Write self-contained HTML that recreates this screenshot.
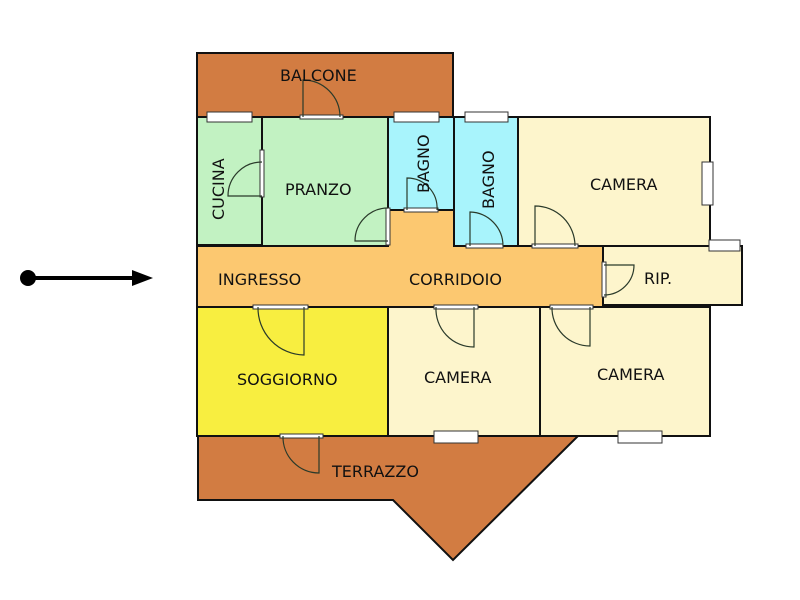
<!DOCTYPE html>
<html><head><meta charset="utf-8"><style>
html,body{margin:0;padding:0;background:#fff;}
svg{display:block;}
text{font-family:"DejaVu Sans","Liberation Sans",sans-serif;font-size:16px;fill:#111;}
</style></head><body>
<svg width="800" height="600" viewBox="0 0 800 600" xmlns="http://www.w3.org/2000/svg">
<g stroke="#111" stroke-width="2">
<rect x="197" y="53" width="256" height="64" fill="#d27c42"/>
<rect x="197" y="117" width="65" height="128" fill="#c2f2c2"/>
<rect x="262" y="117" width="126" height="129" fill="#c2f2c2"/>
<rect x="388" y="117" width="66" height="93" fill="#a8f4fc"/>
<rect x="454" y="117" width="64" height="129" fill="#a8f4fc"/>
<rect x="518" y="117" width="192" height="129" fill="#fdf5cc"/>
<polygon points="197,246 388,246 388,210 454,210 454,246 603,246 603,307 197,307" fill="#fcc870"/>
<rect x="603" y="246" width="139" height="59" fill="#fdf5cc"/>
<rect x="197" y="307" width="191" height="129" fill="#f8ee40"/>
<rect x="388" y="307" width="152" height="129" fill="#fdf5cc"/>
<rect x="540" y="307" width="170" height="129" fill="#fdf5cc"/>
<polygon points="198,436 578,436 453,560 393,500 198,500" fill="#d27c42"/>
</g>
<g fill="#fff" stroke="#333" stroke-width="1">
<rect x="207" y="112" width="45" height="10"/>
<rect x="394" y="112" width="45" height="10"/>
<rect x="465" y="112" width="43" height="10"/>
<rect x="702" y="162" width="11" height="43"/>
<rect x="709" y="240" width="31" height="11"/>
<rect x="434" y="431" width="44" height="12"/>
<rect x="618" y="431" width="44" height="12"/>
<rect x="300" y="115" width="43" height="4"/>
<rect x="260" y="150" width="4" height="47"/>
<rect x="386" y="208" width="4" height="37"/>
<rect x="404" y="208" width="34" height="4"/>
<rect x="466" y="244" width="37" height="4"/>
<rect x="532" y="244" width="46" height="4"/>
<rect x="602" y="262" width="4" height="35"/>
<rect x="253" y="305" width="55" height="4"/>
<rect x="434" y="305" width="44" height="4"/>
<rect x="550" y="305" width="43" height="4"/>
<rect x="280" y="434" width="43" height="4"/>
</g>
<g fill="none" stroke="#2a3a2a" stroke-width="1.2">
<path d="M303,117 V80 A37,37 0 0 1 340,117"/>
<path d="M262,196 H228 A34,34 0 0 1 262,162"/>
<path d="M388,241 H355 A33,33 0 0 1 388,208"/>
<path d="M407,210 V178 A30,30 0 0 1 437,210"/>
<path d="M470,246 V212 A34,34 0 0 1 503,246"/>
<path d="M535,246 V206 A40,40 0 0 1 575,246"/>
<path d="M604,265 H634 A30,30 0 0 1 604,295"/>
<path d="M304,307 V355 A47,47 0 0 1 258,307"/>
<path d="M474,307 V347 A38,38 0 0 1 436,307"/>
<path d="M590,307 V346 A38,38 0 0 1 552,307"/>
<path d="M319,436 V473 A36,36 0 0 1 283,436"/>
</g>
<text x="280" y="81">BALCONE</text>
<text x="285" y="195">PRANZO</text>
<text transform="translate(224,220) rotate(-90)">CUCINA</text>
<text transform="translate(429,193) rotate(-90)">BAGNO</text>
<text transform="translate(494,209) rotate(-90)">BAGNO</text>
<text x="590" y="190">CAMERA</text>
<text x="218" y="285">INGRESSO</text>
<text x="409" y="285">CORRIDOIO</text>
<text x="644" y="284">RIP.</text>
<text x="237" y="385">SOGGIORNO</text>
<text x="424" y="383">CAMERA</text>
<text x="597" y="380">CAMERA</text>
<text x="332" y="477">TERRAZZO</text>
<circle cx="28" cy="278" r="8" fill="#000"/>
<line x1="28" y1="278" x2="135" y2="278" stroke="#000" stroke-width="4"/>
<polygon points="132,270 153,278 132,286" fill="#000"/>
</svg>
</body></html>
